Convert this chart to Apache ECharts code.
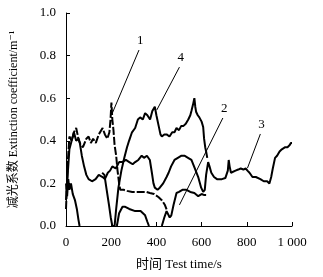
<!DOCTYPE html>
<html>
<head>
<meta charset="utf-8">
<script src="https://cdn.jsdelivr.net/npm/echarts@6/dist/echarts.min.js"></script>
<style>
  html, body { margin: 0; padding: 0; background: #fff; }
  #main { width: 323px; height: 277px; }
</style>
</head>
<body>
<div id="main"></div>
<script>
var chart = echarts.init(document.getElementById('main'));

// x tick values and their printed labels
var xTicks = [0, 200, 400, 600, 800, 1000];
var xTickLabels = ['0', '200', '400', '600', '800', '1 000'];

// curve 1 (dashed)
var curve1 = [[0,0.08],[8,0.3],[15,0.42],[25,0.4],[35,0.44],[45,0.46],[55,0.41],[65,0.38],[75,0.37],
  [90,0.41],[100,0.42],[110,0.39],[120,0.41],[132,0.39],[145,0.43],[162,0.46],[172,0.43],[183,0.41],
  [192,0.44],[197,0.5],[201,0.58],[205,0.5],[210,0.45],[215,0.38],[222,0.33],[228,0.26],[235,0.2],
  [240,0.17],[255,0.17],[270,0.165],[293,0.16],[315,0.16],[336,0.16],[355,0.16],[371,0.155],
  [390,0.15],[410,0.135],[425,0.12],[437,0.1],[448,0.07]];

// curve 2
var curve2 = [[0,0.2],[5,0.14],[10,0.22],[15,0.17],[22,0.2],[30,0.15],[40,0.12],[48,0.08],[55,0.03],[60,0],
  [140,null],
  [225,0],[235,0.06],[250,0.09],[262,0.09],[280,0.08],[306,0.07],[330,0.07],[350,0.05],[360,0.02],[367,0],
  [395,null],
  [424,0],[435,0.04],[445,0.07],[452,0.07],[459,0.04],[466,0.05],[476,0.1],[489,0.155],[500,0.16],
  [515,0.17],[533,0.17],[550,0.16],[568,0.155],[585,0.14],[600,0.15],[612,0.145],[620,0.145]];

// curve 3
var curve3 = [[0,0.12],[8,0.25],[15,0.36],[25,0.4],[35,0.44],[45,0.4],[55,0.41],[61,0.39],[70,0.33],
  [80,0.28],[90,0.24],[100,0.22],[115,0.21],[131,0.22],[145,0.24],[162,0.23],[172,0.22],[185,0.25],
  [195,0.26],[205,0.28],[220,0.27],[235,0.3],[249,0.3],[265,0.31],[280,0.3],[295,0.29],[306,0.3],
  [320,0.31],[335,0.33],[345,0.32],[358,0.33],[371,0.31],[380,0.25],[387,0.2],[393,0.18],[405,0.17],
  [415,0.18],[430,0.2],[445,0.23],[454,0.25],[465,0.28],[480,0.31],[495,0.32],[511,0.33],[524,0.33],
  [540,0.32],[555,0.31],[570,0.27],[585,0.23],[598,0.18],[607,0.16],[614,0.17],[620,0.24],[629,0.3],
  [635,0.28],[643,0.25],[655,0.23],[668,0.22],[677,0.22],[690,0.22],[705,0.225],[712,0.23],[716,0.26],
  [720,0.31],[724,0.28],[730,0.25],[738,0.25],[750,0.26],[762,0.265],[773,0.27],[785,0.265],[795,0.27],
  [803,0.26],[812,0.25],[825,0.23],[840,0.23],[860,0.22],[875,0.21],[890,0.21],[900,0.2],[908,0.23],
  [915,0.27],[925,0.32],[934,0.33],[945,0.35],[955,0.36],[961,0.355],[970,0.37],[980,0.37],[990,0.38],
  [995,0.39],[1000,0.39]];

// curve 4
var curve4 = [[160,0.25],[170,0.24],[180,0.17],[190,0.1],[198,0.04],[205,0],[215,0],[222,0.08],[232,0.18],
  [245,0.26],[258,0.32],[270,0.37],[279,0.4],[292,0.44],[306,0.46],[318,0.5],[328,0.51],[340,0.5],
  [350,0.53],[360,0.52],[372,0.5],[382,0.54],[393,0.56],[400,0.52],[410,0.47],[418,0.43],[424,0.42],
  [435,0.43],[445,0.43],[458,0.42],[470,0.44],[480,0.44],[489,0.46],[500,0.45],[510,0.47],[520,0.47],
  [530,0.48],[541,0.5],[550,0.52],[555,0.54],[562,0.57],[568,0.6],[572,0.56],[576,0.535],[583,0.52],
  [590,0.51],[600,0.49],[607,0.465],[611,0.41],[616,0.37],[620,0.35],[625,0.32]];

// leader lines: [label, label end point, pointed end point]
var leaders = [
  ['1', [323, 0.826], [205, 0.53]],
  ['2', [694, 0.507], [502, 0.099]],
  ['3', [860, 0.432], [803, 0.272]],
  ['4', [502, 0.746], [402, 0.545]]
];

var serif = '"Liberation Serif", "DejaVu Serif", "Noto Sans CJK SC", serif';

function leaderLine(i) {
  var l = leaders[i];
  return {
    silent: true,
    symbol: 'none',
    animation: false,
    lineStyle: { color: '#000', width: 1, type: 'solid' },
    label: {
      show: true, position: 'start', formatter: l[0],
      color: '#000', fontFamily: serif, fontSize: 13, distance: 3
    },
    data: [[{ coord: l[1] }, { coord: l[2] }]]
  };
}

function makeSeries(name, data, dashed, idx) {
  return {
    name: name,
    type: 'line',
    data: data,
    showSymbol: false,
    symbol: 'none',
    connectNulls: false,
    animation: false,
    lineStyle: { color: '#000', width: 2, type: dashed ? [8, 2] : 'solid' },
    markLine: leaderLine(idx)
  };
}

var option = {
  backgroundColor: '#fff',
  animation: false,
  grid: { left: 63, right: 31, top: 13, bottom: 51 },
  xAxis: {
    type: 'value',
    min: 0, max: 1000, interval: 200,
    name: '时间 Test time/s',
    nameLocation: 'middle',
    nameGap: 32,
    nameTextStyle: { color: '#000', fontSize: 13, fontFamily: serif },
    axisLine: { lineStyle: { color: '#000', width: 1 } },
    axisTick: { inside: true, length: 4, lineStyle: { color: '#000' } },
    splitLine: { show: false },
    axisLabel: {
      color: '#000', fontSize: 13, fontFamily: serif, margin: 10,
      formatter: function (v) { var k = xTicks.indexOf(v); return k >= 0 ? xTickLabels[k] : ''; }
    }
  },
  yAxis: {
    type: 'value',
    min: 0, max: 1, interval: 0.2,
    name: '减光系数 Extinction coefficient/m⁻¹',
    nameLocation: 'middle',
    nameGap: 46,
    nameTextStyle: { color: '#000', fontSize: 12, fontFamily: serif },
    axisLine: { show: true, lineStyle: { color: '#000', width: 1 } },
    axisTick: { show: true, inside: true, length: 4, lineStyle: { color: '#000' } },
    splitLine: { show: false },
    axisLabel: {
      color: '#000', fontSize: 13, fontFamily: serif, margin: 10,
      formatter: function (v) { return v.toFixed(1); }
    }
  },
  series: [
    makeSeries('1', curve1, true, 0),
    makeSeries('2', curve2, false, 1),
    makeSeries('3', curve3, false, 2),
    makeSeries('4', curve4, false, 3)
  ]
};

chart.setOption(option);
</script>
</body>
</html>
